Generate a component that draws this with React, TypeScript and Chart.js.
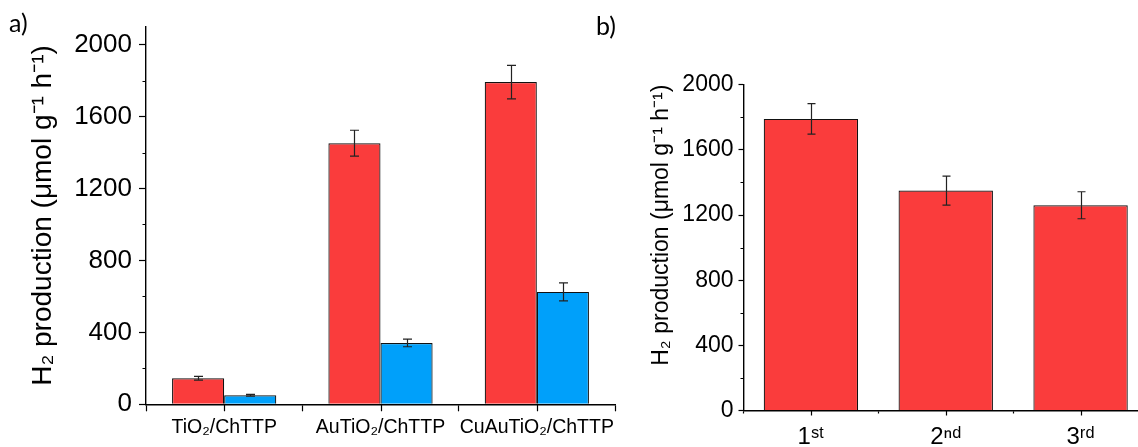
import React, { useEffect, useRef } from 'react';
import { Chart, registerables } from 'chart.js';

Chart.register(...registerables);

// ---------- data ----------
const catsA = ['TiO₂/ChTTP', 'AuTiO₂/ChTTP', 'CuAuTiO₂/ChTTP'];
const redA = [145, 1452, 1792];
const redAErr = [10, 72, 93];
const blueA = [50, 341, 625];
const blueAErr = [5, 21, 50];

const catsB = ['1ˢᵗ', '2ⁿᵈ', '3ʳᵈ'];
const valsB = [1790, 1350, 1260];
const errB = [94, 89, 83];

const yTitle = 'H₂ production (μmol g⁻¹ h⁻¹)';
const yTicksMajor = [0, 400, 800, 1200, 1600, 2000];

const RED = 'rgb(250, 60, 60)';
const BLUE = 'rgb(0, 160, 250)';
const FONT = "'Liberation Sans', Arial, sans-serif";

// ---------- plugins ----------
const errorBarPlugin = {
  id: 'errorBars',
  afterDatasetsDraw(chart: any, _a: any, opts: any) {
    const ctx = chart.ctx;
    const y = chart.scales.y;
    chart.data.datasets.forEach((ds: any, di: number) => {
      const errs = ds.errors;
      if (!errs) return;
      const meta = chart.getDatasetMeta(di);
      meta.data.forEach((el: any, i: number) => {
        const v = ds.data[i];
        const e = errs[i];
        const x = Math.round(el.x) + 0.5;
        const yt = y.getPixelForValue(v + e);
        const yb = y.getPixelForValue(v - e);
        const cap = opts.cap || 4;
        ctx.save();
        ctx.strokeStyle = '#222';
        ctx.lineWidth = 1.2;
        ctx.beginPath();
        ctx.moveTo(x, yt);
        ctx.lineTo(x, yb);
        ctx.moveTo(x - cap, yt);
        ctx.lineTo(x + cap, yt);
        ctx.moveTo(x - cap, yb);
        ctx.lineTo(x + cap, yb);
        ctx.stroke();
        ctx.restore();
      });
    });
  },
};

const axisExtras = {
  id: 'axisExtras',
  afterDraw(chart: any, _a: any, o: any) {
    const { ctx, chartArea } = chart;
    const xs = chart.scales.x;
    const ys = chart.scales.y;
    ctx.save();
    ctx.strokeStyle = '#000';
    ctx.lineWidth = o.width || 1.2;
    ctx.beginPath();
    ys.ticks.forEach((t: any) => {
      if (yTicksMajor.includes(t.value)) return;
      const py = Math.round(ys.getPixelForValue(t.value)) + 0.5;
      ctx.moveTo(chartArea.left - o.minorLen, py);
      ctx.lineTo(chartArea.left, py);
    });
    xs.ticks.forEach((_t: any, i: number) => {
      const px = Math.round(xs.getPixelForValue(i)) + 0.5;
      ctx.moveTo(px, chartArea.bottom);
      ctx.lineTo(px, chartArea.bottom + o.centerLen);
    });
    ctx.stroke();
    ctx.restore();
  },
};

function makeY(opts: any) {
  return {
    min: 0,
    max: opts.max,
    grid: {
      display: true,
      drawOnChartArea: false,
      drawTicks: true,
      tickLength: opts.tickLen,
      tickWidth: 1.2,
      tickColor: (c: any) =>
        c.tick && yTicksMajor.includes(c.tick.value) ? '#000' : 'rgba(0,0,0,0)',
    },
    border: { display: true, color: '#000', width: 1.4 },
    ticks: {
      stepSize: 200,
      includeBounds: false,
      autoSkip: false,
      padding: opts.pad,
      color: '#000',
      font: { family: FONT, size: opts.tickSize },
      callback: (v: any) => (yTicksMajor.includes(v) ? String(v) : ''),
    },
    title: {
      display: true,
      text: yTitle,
      color: '#000',
      align: opts.titleAlign,
      font: { family: FONT, size: opts.titleSize },
      padding: 0,
    },
    afterFit: (s: any) => {
      s.width = opts.width;
    },
  };
}

function makeX(opts: any) {
  return {
    type: 'category',
    offset: true,
    grid: {
      display: true,
      offset: true,
      drawOnChartArea: false,
      drawTicks: true,
      tickLength: opts.tickLen,
      tickWidth: 1.2,
      tickColor: '#000',
    },
    border: { display: true, color: '#000', width: 1.4 },
    ticks: {
      color: '#000',
      autoSkip: false,
      maxRotation: 0,
      padding: opts.pad,
      font: { family: FONT, size: opts.size },
    },
    afterFit: (s: any) => {
      s.height = opts.height;
    },
  };
}

function configA(): any {
  return {
    type: 'bar',
    data: {
      labels: catsA,
      datasets: [
        {
          label: 'a1',
          data: redA,
          errors: redAErr,
          backgroundColor: RED,
          borderColor: '#111',
          borderWidth: 1.2,
          categoryPercentage: 2 / 3,
          barPercentage: 1,
        },
        {
          label: 'a2',
          data: blueA,
          errors: blueAErr,
          backgroundColor: BLUE,
          borderColor: '#111',
          borderWidth: 1.2,
          categoryPercentage: 2 / 3,
          barPercentage: 1,
        },
      ],
    },
    options: {
      responsive: false,
      animation: false,
      layout: { padding: { left: 26.2, top: 26.7, right: 25, bottom: 0 } },
      plugins: {
        legend: { display: false },
        tooltip: { enabled: false },
        errorBars: { cap: 4.5 },
        axisExtras: { minorLen: 3.5, centerLen: 7, width: 1.2 },
      },
      scales: {
        x: makeX({ tickLen: 7, pad: 5, size: 19.5, height: 447 - 404.3 }),
        y: makeY({ max: 2100, tickLen: 7, pad: 7, tickSize: 26, titleSize: 28, titleAlign: 'center', width: 146 - 26.2 }),
      },
    },
    plugins: [errorBarPlugin, axisExtras],
  };
}

function configB(): any {
  return {
    type: 'bar',
    data: {
      labels: catsB,
      datasets: [
        {
          label: 'b',
          data: valsB,
          errors: errB,
          backgroundColor: RED,
          borderColor: '#111',
          borderWidth: 1.2,
          categoryPercentage: 0.7,
          barPercentage: 1,
        },
      ],
    },
    options: {
      responsive: false,
      animation: false,
      layout: { padding: { left: 28.2, top: 84.7, right: 12, bottom: 0 } },
      plugins: {
        legend: { display: false },
        tooltip: { enabled: false },
        errorBars: { cap: 4 },
        axisExtras: { minorLen: 3, centerLen: 5, width: 1.2 },
      },
      scales: {
        x: makeX({ tickLen: 3, pad: 9, size: 24, height: 447 - 410.5 }),
        y: makeY({ max: 2000, tickLen: 5, pad: 5, tickSize: 23, titleSize: 23, titleAlign: 'end', width: 123.5 - 28.2 }),
      },
    },
    plugins: [errorBarPlugin, axisExtras],
  };
}

function ChartCanvas(props: { make: () => any; left: number; width: number; height: number }) {
  const ref = useRef<HTMLCanvasElement>(null);
  useEffect(() => {
    const chart = new Chart(ref.current as HTMLCanvasElement, props.make());
    return () => chart.destroy();
  }, []);
  return (
    <canvas
      ref={ref}
      width={props.width}
      height={props.height}
      style={{ position: 'absolute', left: props.left, top: 0, width: props.width, height: props.height }}
    />
  );
}

export default function App() {
  const labelStyle: React.CSSProperties = {
    position: 'absolute',
    fontFamily: "Lato, 'Open Sans', sans-serif",
    fontSize: 25,
    color: '#000',
    lineHeight: 1,
  };
  return (
    <div
      style={{
        position: 'absolute',
        left: 0,
        top: 0,
        width: 1138,
        height: 447,
        overflow: 'hidden',
        background: '#fff',
      }}
    >
      <ChartCanvas make={configA} left={0} width={640} height={447} />
      <ChartCanvas make={configB} left={620} width={540} height={447} />
      <div style={{ ...labelStyle, left: 9, top: 10 }}>a)</div>
      <div style={{ ...labelStyle, left: 596, top: 13 }}>b)</div>
    </div>
  );
}
